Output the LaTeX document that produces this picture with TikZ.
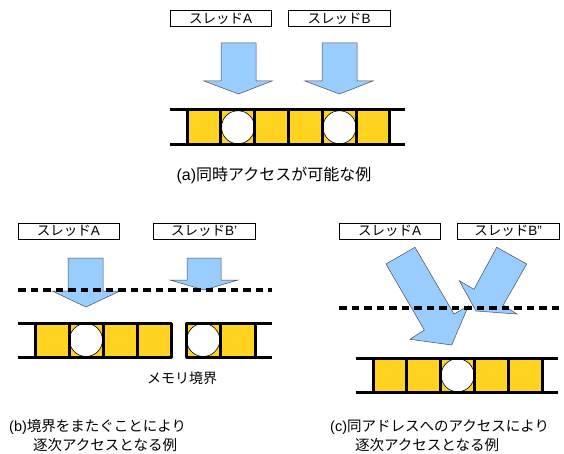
\documentclass[tikz,border=0pt]{standalone}
\usepackage{fontspec}
\setmainfont{Liberation Sans}
\newfontfamily\jp{Noto Sans CJK JP}
\definecolor{arrowblue}{RGB}{153,204,255}
\definecolor{cellyellow}{RGB}{255,211,32}
\begin{document}
\begin{tikzpicture}[x=1pt,y=-1pt,
  thread/.style={draw=black, line width=0.8pt, minimum width=101pt, minimum height=16pt, inner sep=0pt, font=\fontsize{13.5}{14}\selectfont},
  blockarrow/.style={fill=arrowblue, draw=black!70, line width=0.5pt, line join=miter},
  cellfill/.style={fill=cellyellow},
  stripline/.style={line width=3pt, line join=round},
  hole/.style={fill=white, draw=black, line width=0.6pt},
  boundary/.style={line width=3.5pt, dash pattern=on 7.5pt off 5pt},
  caption/.style={font=\fontsize{14.5}{18}\selectfont, inner sep=0pt, anchor=west},
  captiona/.style={font=\fontsize{16}{18}\selectfont, inner sep=0pt}
]
\useasboundingbox[fill=white] (0,0) rectangle (564,454);

% ---------------- (a) ----------------
\node[thread] (aA) at (220.5,18.5) {{\jp スレッド}A};
\node[thread, minimum width=102pt] (aB) at (339,18.5) {{\jp スレッド}B};

\draw[blockarrow] (221,43) -- (256,43) -- (256,81) -- (272,81) -- (238.5,94) -- (204,81) -- (221,81) -- cycle;
\draw[blockarrow] (322,43) -- (357,43) -- (357,81) -- (373,81) -- (339.5,94) -- (305,81) -- (322,81) -- cycle;

\foreach \i in {0,...,5} {
  \fill[cellfill] (187+33.83*\i,110) rectangle (187+33.83*\i+33.83,144.5);
}
\draw[hole] (238,127.25) circle (16.5);
\draw[hole] (339.5,127.25) circle (16.5);
\draw[stripline] (170,110) -- (405,110);
\draw[stripline] (170,144.5) -- (405,144.5);
\foreach \i in {0,...,6} {
  \draw[stripline] (187+33.83*\i,110) -- (187+33.83*\i,144.5);
}
\node[captiona] (capa) at (274,175) {(a){\jp 同時アクセスが可能な例}};

% ---------------- (b) ----------------
\node[thread] (bA) at (68.5,231) {{\jp スレッド}A};
\node[thread, minimum width=102pt] (bB) at (204,231) {{\jp スレッド}B\symbol{39}};

\draw[blockarrow] (68,258) -- (103,258) -- (103,291) -- (120,291) -- (86,307) -- (52,291) -- (68,291) -- cycle;
\draw[blockarrow] (187,258) -- (221,258) -- (221,280) -- (238,280) -- (204,290) -- (170,280) -- (187,280) -- cycle;
\draw[boundary] (18,290) -- (272,290);

\foreach \i in {0,...,3} {
  \fill[cellfill] (35+34*\i,323) rectangle (35+34*\i+34,357);
}
\foreach \i in {0,1} {
  \fill[cellfill] (186+34.5*\i,323) rectangle (186+34.5*\i+34.5,357);
}
\draw[hole] (86,340) circle (16.5);
\draw[hole] (203.25,340) circle (16.5);
\draw[stripline] (18,323) -- (171,323) -- (171,357) -- (18,357);
\foreach \x in {35,69,103,137} {
  \draw[stripline] (\x,323) -- (\x,357);
}
\draw[stripline] (272,323) -- (186,323) -- (186,357) -- (272,357);
\foreach \x in {220.5,255} {
  \draw[stripline] (\x,323) -- (\x,357);
}
\node[font=\fontsize{14}{14}\selectfont\jp, inner sep=0pt] (memb) at (182,378) {メモリ境界};

\node[caption] (capb1) at (9,427) {(b){\jp 境界をまたぐことにより}};
\node[caption] (capb2) at (33,445) {\jp 逐次アクセスとなる例};

% ---------------- (c) ----------------
\node[thread] (cA) at (389.5,231) {{\jp スレッド}A};
\node[thread, minimum width=102pt] (cB) at (508,231) {{\jp スレッド}B\symbol{34}};

\draw[blockarrow] (386,264) -- (415,247.3) -- (454,314) -- (468.3,306) -- (451.7,345) -- (410,339.3) -- (424.3,330) -- cycle;
\draw[blockarrow] (496.7,247.3) -- (526.7,264) -- (503.3,305) -- (516.7,314) -- (476,311) -- (459.3,280.7) -- (474,289.3) -- cycle;
\draw[boundary] (339,308) -- (559,308);

\foreach \i in {0,...,4} {
  \fill[cellfill] (373+33.8*\i,358) rectangle (373+33.8*\i+33.8,392.5);
}
\draw[hole] (457.6,375.25) circle (16.5);
\draw[stripline] (356,358) -- (558,358);
\draw[stripline] (356,392.5) -- (558,392.5);
\foreach \i in {0,...,5} {
  \draw[stripline] (373+33.8*\i,358) -- (373+33.8*\i,392.5);
}

\node[caption] (capc1) at (330,427) {(c){\jp 同アドレスへのアクセスにより}};
\node[caption] (capc2) at (355,445) {\jp 逐次アクセスとなる例};
\end{tikzpicture}
\end{document}
